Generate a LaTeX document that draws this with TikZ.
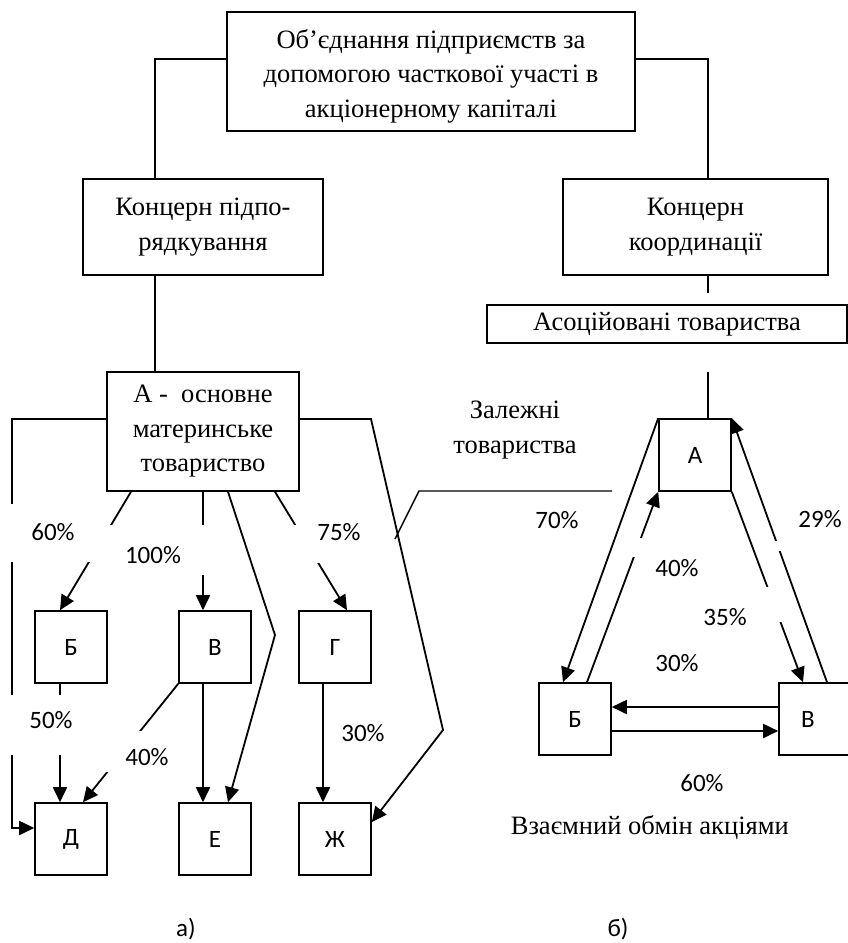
\documentclass[tikz,border=0pt]{standalone}
\usepackage{fontspec}
\setmainfont{Liberation Serif}
\newfontfamily\calib{Carlito}
\usetikzlibrary{arrows.meta}
\begin{document}
\begin{tikzpicture}[x=1pt,y=-1pt,
  box/.style={draw, line width=1.6pt, inner sep=0pt, align=center,
    font=\fontsize{26.5}{34.5}\selectfont},
  sq/.style={draw, line width=1.6pt, minimum width=72pt, minimum height=72pt,
    inner sep=0pt, font=\calib\fontsize{25}{30}\selectfont},
  link/.style={line width=1.4pt},
  arr/.style={line width=1.8pt, -{Triangle[length=15pt,width=14pt]}},
  pct/.style={font=\calib\fontsize{25}{30}\selectfont, inner sep=0pt},
  txt/.style={font=\fontsize{26.5}{34.5}\selectfont, align=center, inner sep=0pt}
]
\useasboundingbox (0,0) rectangle (848,943);

% ---------- upper levels ----------
\node[box, minimum width=408pt, minimum height=119pt] (top) at (431,71.5)
  {\rule{0pt}{28.5pt}Об’єднання підприємств за\\допомогою часткової участі в\\акціонерному капіталі};
\node[box, minimum width=240pt, minimum height=96pt] (kp) at (203,227)
  {Концерн підпо-\\рядкування};
\node[box, minimum width=265pt, minimum height=96pt] (kk) at (695.5,227)
  {Концерн\\координації};
\node[box, minimum width=360pt, minimum height=38pt] (assoc) at (667,324)
  {Асоційовані товариства};

\draw[link] ([yshift=12.5pt]top.west) -| ([xshift=-48pt]kp.north);
\draw[link] ([yshift=12.5pt]top.east) -| ([xshift=12.5pt]kk.north);

% ---------- a) subordination concern ----------
\node[box, minimum width=192pt, minimum height=119pt] (a) at (203,431.5)
  {А -~~основне\\материнське\\товариство};
\draw[link] ([xshift=-48pt]kp.south) -- ([xshift=-48pt]a.north);

\node[sq] (b)  at (71,647)  {Б};
\node[sq] (v)  at (215,647) {В};
\node[sq] (g)  at (335,647) {Г};
\node[sq] (d)  at (71,839)  {Д};
\node[sq] (e)  at (215,839) {Е};
\node[sq] (zh) at (335,839) {Ж};

\coordinate (lx) at (12,419);
\coordinate (ebend) at (275,635);
\coordinate (zr) at (371,419);
\coordinate (zbend) at (443,730);

\draw[arr] ([yshift=12.5pt]a.west) -- (lx) |- ([yshift=11pt]d.west);
\draw[arr] ([xshift=-72pt]a.south) -- ([xshift=-11pt]b.north);
\draw[arr] (a.south) -- ([xshift=-12pt]v.north);
\draw[arr] ([xshift=25pt]a.south) -- (ebend) -- ([xshift=13pt]e.north);
\draw[arr] ([xshift=72pt]a.south) -- ([xshift=12pt]g.north);
\draw[arr] ([yshift=12.5pt]a.east) -- (zr) -- (zbend) -- ([yshift=17pt]zh.east);
\draw[arr] ([xshift=-11pt]b.south) -- ([xshift=-11pt]d.north);
\draw[arr] (v.south west) -- ([xshift=12pt]d.north);
\draw[arr] ([xshift=-12pt]v.south) -- ([xshift=-12pt]e.north);
\draw[arr] ([xshift=-12pt]g.south) -- ([xshift=-12pt]zh.north);

% white label backgrounds
\fill[white] (8,504) rectangle (98,562);
\fill[white] (93,525) rectangle (213,575);
\fill[white] (288,525) rectangle (388,563);
\fill[white] (6,695) rectangle (95,755);
\fill[white] (100,731) rectangle (198,772);

\node[pct] (p60)  at (53,532)  {60\%};
\node[pct] (p100) at (153,555) {100\%};
\node[pct] (p75)  at (339,532) {75\%};
\node[pct] (p50)  at (51,720)  {50\%};
\node[pct] (p40)  at (147,757) {40\%};
\node[pct] (p30)  at (363,733) {30\%};

\node[pct] (capa) at (186,929) {а)};

% ---------- b) coordination concern ----------
\coordinate (kkstub) at (708,293);
\draw[link] ([xshift=12.5pt]kk.south) -- (kkstub);

\node[sq] (ra) at (695,455) {А};
\node[sq] (rb) at (575,719) {Б};
\node[sq] (rv) at (815,719) {};
\node[pct] (rvt) at (808,719) {В};

\coordinate (rastub) at (708,372);
\draw[link] (rastub) -- (rastub |- ra.north);

\draw[arr] (ra.north west) -- ([xshift=-12pt]rb.north);
\draw[arr] ([xshift=12pt]rb.north) -- (ra.south west);
\draw[arr] (ra.south east) -- ([xshift=-12pt]rv.north);
\draw[arr] ([xshift=12pt]rv.north) -- (ra.north east);
\draw[arr] ([yshift=12pt]rv.west) -- ([yshift=12pt]rb.east);
\draw[arr] ([yshift=-12pt]rb.east) -- ([yshift=-12pt]rv.west);

% dependent companies pointer
\coordinate (dz1) at (395,539);
\coordinate (dz2) at (419,491);
\coordinate (dz3) at (612,491);
\draw[link] (dz1) -- (dz2) -- (dz3);

\fill[white] (630,538) rectangle (720,557);
\fill[white] (690,587) rectangle (782,622);
\fill[white] (772,541) rectangle (848,551);

\node[txt] (dep) at (515,430) {Залежні\\товариства};
\node[pct] (q70) at (557,520) {70\%};
\node[pct] (q40) at (677,568) {40\%};
\node[pct] (q35) at (725,617) {35\%};
\node[pct] (q29) at (820,519) {29\%};
\node[pct] (q30) at (677,663) {30\%};
\node[pct] (q60) at (702,783) {60\%};
\node[txt, anchor=east] (swap) at (789,828) {Взаємний обмін акціями};

\node[pct] (capb) at (618,929) {б)};
\end{tikzpicture}
\end{document}
